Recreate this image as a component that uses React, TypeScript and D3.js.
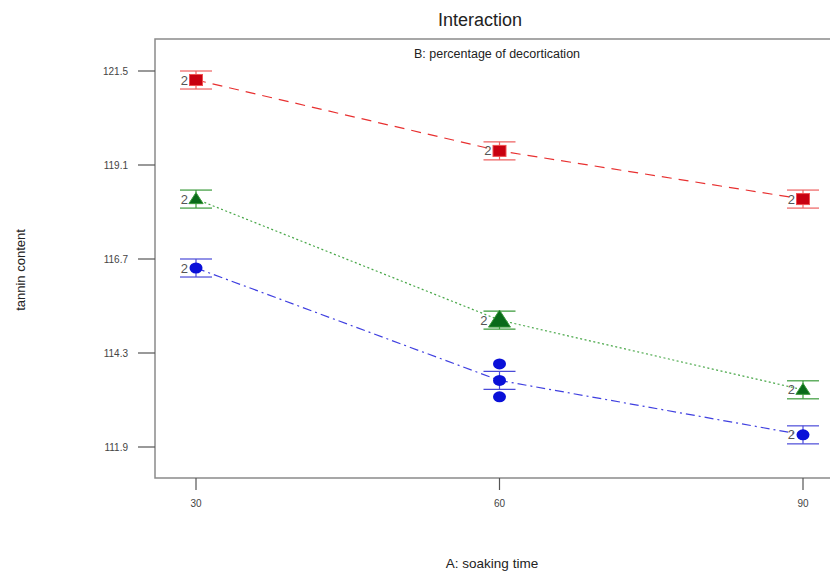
import * as d3 from "d3";
import { useEffect, useRef } from "react";

// soaking time levels (A)
const xLevels = [30, 60, 90];
const yTicks = [111.9, 114.3, 116.7, 119.1, 121.5];

// predicted tannin content per level of B (percentage of decortication)
const redPred = [121.27, 119.46, 118.23];
const greenPred = [118.23, 115.14, 113.36];
const bluePred = [116.47, 113.6, 112.21];

// design points: [A, observed, count]
const redPts = [[30, 121.27, 2], [60, 119.46, 2], [90, 118.23, 2]];
const greenPts = [[30, 118.23, 2], [60, 115.14, 2], [90, 113.36, 2]];
const bluePts = [[30, 116.47, 2], [60, 114.02, 1], [60, 113.6, 1], [60, 113.18, 1], [90, 112.21, 2]];

// half-width of LSD bars
const lsd = 0.23;

const W = 830;
const H = 571;

export default function App() {
  const ref = useRef<SVGSVGElement>(null);

  useEffect(() => {
    const svg = d3.select(ref.current);
    svg.selectAll("*").remove();

    const left = 155, top = 39, bottom = 478, right = 845;
    const x = d3.scaleLinear().domain([30, 90]).range([196, 803]);
    const y = d3.scaleLinear().domain([111.9, 121.5]).range([447, 71]);
    const font = "Liberation Sans, Arial, sans-serif";

    // frame
    svg.append("rect")
      .attr("x", left).attr("y", top)
      .attr("width", right - left).attr("height", bottom - top)
      .attr("fill", "none").attr("stroke", "#8a8a8a").attr("stroke-width", 1.5);

    // y axis ticks
    const ya = svg.append("g");
    ya.selectAll("line").data(yTicks).join("line")
      .attr("x1", left - 17).attr("x2", left)
      .attr("y1", d => y(d)).attr("y2", d => y(d))
      .attr("stroke", "#555").attr("stroke-width", 1.2);
    ya.selectAll("text").data(yTicks).join("text")
      .attr("x", left - 27).attr("y", d => y(d) + 4)
      .attr("text-anchor", "end")
      .attr("font-family", font).attr("font-size", 10).attr("fill", "#444")
      .text(d => d.toFixed(1));

    // x axis ticks
    const xa = svg.append("g");
    xa.selectAll("line").data(xLevels).join("line")
      .attr("x1", d => x(d)).attr("x2", d => x(d))
      .attr("y1", bottom).attr("y2", bottom + 12)
      .attr("stroke", "#555").attr("stroke-width", 1.2);
    xa.selectAll("text").data(xLevels).join("text")
      .attr("x", d => x(d)).attr("y", bottom + 29)
      .attr("text-anchor", "middle")
      .attr("font-family", font).attr("font-size", 10).attr("fill", "#444")
      .text(d => d);

    // titles
    svg.append("text").attr("x", 480).attr("y", 26).attr("text-anchor", "middle")
      .attr("font-family", font).attr("font-size", 18).attr("fill", "#222").text("Interaction");
    svg.append("text").attr("x", 497).attr("y", 58).attr("text-anchor", "middle")
      .attr("font-family", font).attr("font-size", 12.5).attr("fill", "#222").text("B: percentage of decortication");
    svg.append("text").attr("x", 492).attr("y", 568).attr("text-anchor", "middle")
      .attr("font-family", font).attr("font-size", 13.5).attr("fill", "#222").text("A: soaking time");
    svg.append("text").attr("transform", "translate(25,270) rotate(-90)").attr("text-anchor", "middle")
      .attr("font-family", font).attr("font-size", 13).attr("fill", "#222").text("tannin content");

    const series = [
      { pred: redPred, pts: redPts, line: "#e83030", bar: "#ee6060", fill: "#c80010", dash: "10,7", shape: "square" },
      { pred: greenPred, pts: greenPts, line: "#4aa84a", bar: "#3a9a3a", fill: "#0a6a1a", dash: "2,2.5", shape: "triangle" },
      { pred: bluePred, pts: bluePts, line: "#4040e0", bar: "#4a4ad8", fill: "#0a10d8", dash: "9,4,2,4", shape: "circle" },
    ];

    const lineGen = d3.line<number>().x((_, i) => x(xLevels[i])).y(d => y(d));

    series.forEach(s => {
      const g = svg.append("g");
      g.append("path").attr("d", lineGen(s.pred))
        .attr("fill", "none").attr("stroke", s.line).attr("stroke-width", 1.2)
        .attr("stroke-dasharray", s.dash);

      // LSD bars
      s.pred.forEach((v, i) => {
        const cx = x(xLevels[i]);
        const b = g.append("g").attr("stroke", s.bar).attr("stroke-width", 1.2);
        b.append("line").attr("x1", cx).attr("x2", cx).attr("y1", y(v + lsd)).attr("y2", y(v - lsd));
        [v + lsd, v - lsd].forEach(e => {
          b.append("line").attr("x1", cx - 16).attr("x2", cx + 16).attr("y1", y(e)).attr("y2", y(e));
        });
      });

      // design points
      s.pts.forEach(([a, v, n]) => {
        const cx = x(a), cy = y(v);
        const big = s.shape === "triangle" && a === 60;
        if (s.shape === "square") {
          g.append("rect").attr("x", cx - 6.5).attr("y", cy - 5.5).attr("width", 13).attr("height", 11)
            .attr("fill", s.fill).attr("stroke", "#f05050").attr("stroke-width", 1);
        } else if (s.shape === "triangle") {
          const sz = big ? 10 : 6.5;
          g.append("path")
            .attr("d", `M${cx},${cy - sz} L${cx + sz * 1.1},${cy + sz * 0.7} L${cx - sz * 1.1},${cy + sz * 0.7} Z`)
            .attr("fill", s.fill).attr("stroke", "#3a9a3a").attr("stroke-width", 1);
        } else {
          g.append("ellipse").attr("cx", cx).attr("cy", cy).attr("rx", 6.5).attr("ry", 5.5)
            .attr("fill", s.fill);
        }
        if (n > 1) {
          g.append("text").attr("x", cx - (big ? 12 : 8)).attr("y", cy + 4.5)
            .attr("text-anchor", "end")
            .attr("font-family", font).attr("font-size", 13).attr("fill", "#555")
            .text(n);
        }
      });
    });
  }, []);

  return (
    <svg ref={ref} width={W} height={H}
      style={{ position: "absolute", left: 0, top: 0, background: "#fff" }} />
  );
}
